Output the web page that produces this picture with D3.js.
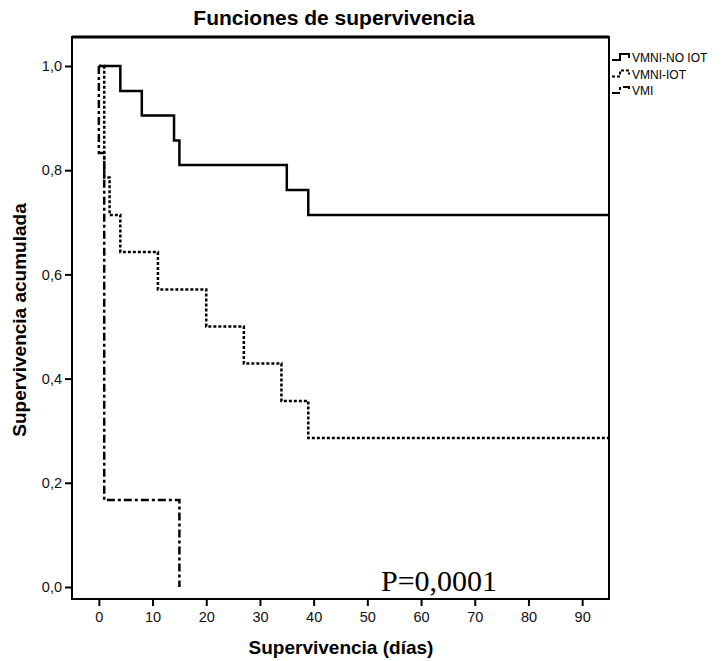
<!DOCTYPE html>
<html>
<head>
<meta charset="utf-8">
<script src="https://cdn.jsdelivr.net/npm/d3@7"></script>
<style>
  body { margin: 0; background: #fff; }
</style>
</head>
<body>
<svg width="723" height="661"></svg>
<script>
const svg = d3.select("svg");

const titleText = "Funciones de supervivencia";
const xTitle = "Supervivencia (días)";
const yTitle = "Supervivencia acumulada";
const pText = "P=0,0001";

// Kaplan-Meier steps (time in days, cumulative survival)
const groups = ["VMNI-NO IOT", "VMNI-IOT", "VMI"];
const noIotTimes = [0, 4, 8, 14, 15, 35, 39, 95];
const noIotSurv  = [1.0, 0.952, 0.905, 0.857, 0.810, 0.762, 0.714, 0.714];
const iotTimes = [0, 1, 2, 4, 11, 20, 27, 34, 39, 95];
const iotSurv  = [1.0, 0.786, 0.714, 0.643, 0.571, 0.500, 0.429, 0.357, 0.286, 0.286];
const vmiTimes = [0, 0, 1, 15, 15];
const vmiSurv  = [1.0, 0.833, 0.167, 0.167, 0.0];

const xTicks = [0, 10, 20, 30, 40, 50, 60, 70, 80, 90];
const yTicks = [0, 0.2, 0.4, 0.6, 0.8, 1.0];

const sans = "'Liberation Sans', Arial, sans-serif";

// Plot frame
const frameL = 72, frameR = 609, frameT = 37, frameB = 599;

const xScale = d3.scaleLinear().domain([-5, 95]).range([frameL, frameR]);
const yScale = d3.scaleLinear().domain([0, 1]).range([587, 66]);

const comma = d => d3.format(".1f")(d).replace(".", ",");

// Title
svg.append("text")
  .attr("x", 334).attr("y", 25)
  .attr("text-anchor", "middle")
  .style("font-family", sans)
  .style("font-size", "21px").style("font-weight", "bold")
  .text(titleText);

// Axes
const yAxis = svg.append("g")
  .attr("transform", `translate(${frameL},0)`)
  .call(d3.axisLeft(yScale).tickValues(yTicks).tickFormat(comma).tickSize(7).tickPadding(3));
const xAxis = svg.append("g")
  .attr("transform", `translate(0,${frameB})`)
  .call(d3.axisBottom(xScale).tickValues(xTicks).tickSize(7).tickPadding(6));
[yAxis, xAxis].forEach(a => {
  a.select(".domain").remove();
  a.selectAll(".tick line").attr("stroke", "#000").attr("stroke-width", 2);
  a.selectAll(".tick text").attr("fill", "#111")
    .style("font-family", sans).style("font-size", "14.5px");
});

// Frame
svg.append("rect")
  .attr("x", frameL).attr("y", frameT)
  .attr("width", frameR - frameL).attr("height", frameB - frameT)
  .attr("fill", "none").attr("stroke", "#000").attr("stroke-width", 2);
svg.append("line")
  .attr("x1", frameL).attr("x2", frameR).attr("y1", frameT).attr("y2", frameT)
  .attr("stroke", "#000").attr("stroke-width", 3);

// Axis titles
svg.append("text")
  .attr("x", 341).attr("y", 654)
  .attr("text-anchor", "middle")
  .style("font-family", sans)
  .style("font-size", "19px").style("font-weight", "bold")
  .text(xTitle);
svg.append("text")
  .attr("transform", "translate(26,320) rotate(-90)")
  .attr("text-anchor", "middle")
  .style("font-family", sans)
  .style("font-size", "19px").style("font-weight", "bold")
  .text(yTitle);

// Curves
const styles = ["none", "3,2", "8,3,3,3"];
const series = [
  d3.zip(noIotTimes, noIotSurv),
  d3.zip(iotTimes, iotSurv),
  d3.zip(vmiTimes, vmiSurv)
];
const line = d3.line()
  .x(d => xScale(d[0]))
  .y(d => yScale(d[1]))
  .curve(d3.curveStepAfter);

svg.append("g").selectAll("path").data(series)
  .enter().append("path")
  .attr("d", line)
  .attr("fill", "none")
  .attr("stroke", "#000")
  .attr("stroke-width", 2.5)
  .attr("stroke-dasharray", (d, i) => styles[i]);

// Legend
const legend = svg.append("g").attr("transform", "translate(612,57)");
groups.forEach((g, i) => {
  const row = legend.append("g").attr("transform", `translate(0,${i * 16.5})`);
  row.append("path")
    .attr("d", "M0,3 H8 V-3 H17 V1")
    .attr("fill", "none").attr("stroke", "#000").attr("stroke-width", 2)
    .attr("stroke-dasharray", styles[i]);
  row.append("text")
    .attr("x", 20).attr("y", 5)
    .style("font-family", sans).style("font-size", "12px")
    .text(g);
});

// p-value
svg.append("text")
  .attr("x", 381).attr("y", 591)
  .style("font-family", "'Liberation Serif', 'Times New Roman', serif")
  .style("font-size", "30px")
  .text(pText);
</script>
</body>
</html>
